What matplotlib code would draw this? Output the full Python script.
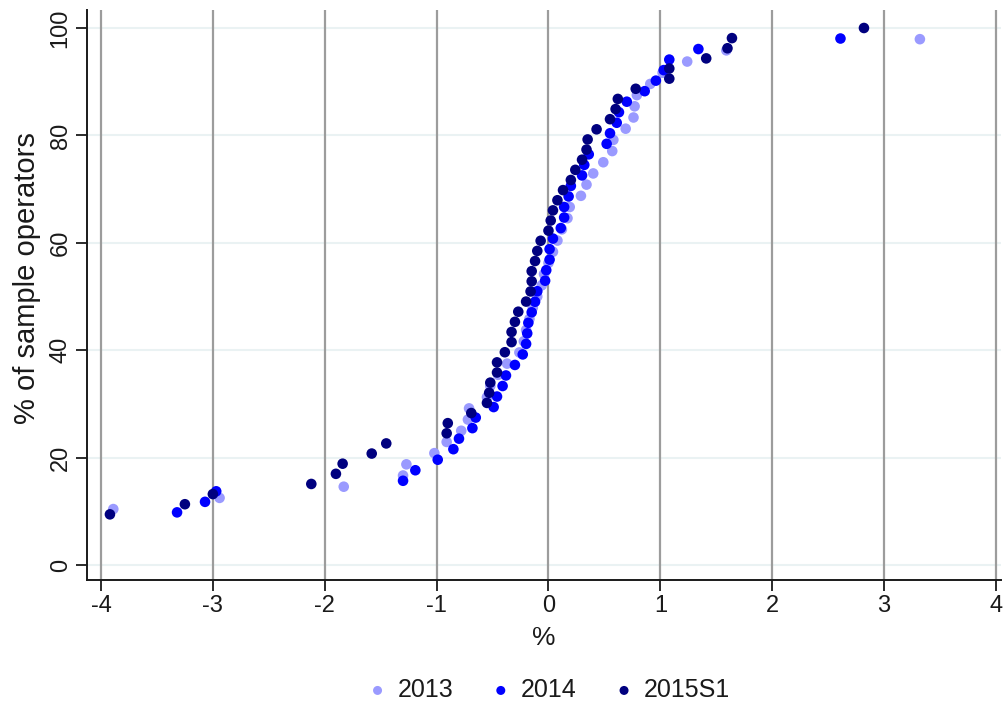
import matplotlib
matplotlib.use("Agg")
import matplotlib.pyplot as plt

# Cumulative distribution of operators' growth rates (%), by period.
# Each series: sorted x values (%), the sample size and the rank of the last point.
x_2013 = [-3.89, -2.94, -1.83, -1.30, -1.27, -1.02, -0.91, -0.78, -0.72, -0.71,
          -0.55, -0.52, -0.45, -0.37, -0.26, -0.22, -0.20, -0.17, -0.14, -0.10,
          -0.06, -0.04, 0.00, 0.04, 0.08, 0.12, 0.17, 0.19, 0.29, 0.34,
          0.40, 0.49, 0.57, 0.58, 0.69, 0.76, 0.77, 0.79, 0.91, 1.02,
          1.24, 1.59, 3.32]
n_2013, top_2013 = 48, 47

x_2014 = [-3.32, -3.07, -2.97, -1.30, -1.19, -0.99, -0.85, -0.80, -0.68, -0.65,
          -0.49, -0.46, -0.41, -0.38, -0.30, -0.23, -0.20, -0.19, -0.18, -0.15,
          -0.12, -0.10, -0.03, -0.02, 0.01, 0.01, 0.04, 0.11, 0.14, 0.14,
          0.18, 0.20, 0.30, 0.32, 0.36, 0.52, 0.55, 0.61, 0.63, 0.70,
          0.86, 0.96, 1.03, 1.08, 1.34, 2.61]
n_2014, top_2014 = 51, 50

x_2015s1 = [-3.92, -3.25, -3.00, -2.12, -1.90, -1.84, -1.58, -1.45, -0.91, -0.90,
            -0.69, -0.55, -0.53, -0.52, -0.46, -0.46, -0.39, -0.33, -0.33, -0.30,
            -0.27, -0.20, -0.16, -0.15, -0.15, -0.12, -0.10, -0.07, 0.00, 0.02,
            0.04, 0.08, 0.13, 0.20, 0.24, 0.30, 0.34, 0.35, 0.43, 0.55,
            0.60, 0.62, 0.78, 1.08, 1.08, 1.41, 1.60, 1.64, 2.82]
n_2015s1, top_2015s1 = 53, 53

series_labels = ["2013", "2014", "2015S1"]
series_colors = ["#9a9aff", "#0000ff", "#00007f"]

x_ticks = [-4, -3, -2, -1, 0, 1, 2, 3, 4]
y_ticks = [0, 20, 40, 60, 80, 100]


def cum_share(xs, n, top_rank):
    """Share of operators (%) at or below each sorted value."""
    start = top_rank - len(xs) + 1
    return [100.0 * (start + i) / n for i in range(len(xs))]


y_2013 = cum_share(x_2013, n_2013, top_2013)
y_2014 = cum_share(x_2014, n_2014, top_2014)
y_2015s1 = cum_share(x_2015s1, n_2015s1, top_2015s1)

plt.rcParams["font.family"] = ["Liberation Sans", "DejaVu Sans"]
text_color = "#1a1a1a"
fs_tick = 17
fs_xlabel = 19
fs_ylabel = 21
fs_leg = 18

fig = plt.figure(figsize=(10.04, 7.07), dpi=100)
ax = fig.add_axes([87 / 1004, (707 - 580) / 707, 914 / 1004, 570 / 707])

ax.set_xlim(-4.125, 4.045)
ax.set_ylim(-2.79, 103.35)

for xs, ys, lab, col in zip([x_2013, x_2014, x_2015s1], [y_2013, y_2014, y_2015s1],
                            series_labels, series_colors):
    ax.scatter(xs, ys, s=58, color=col, edgecolors="none", label=lab, zorder=3)

ax.set_xticks(x_ticks)
ax.set_yticks(y_ticks)
ax.set_xticklabels([str(v) for v in x_ticks])
ax.set_yticklabels([str(v) for v in y_ticks], rotation=90, va="center")

# vertical grid: grey; horizontal grid: very faint
for xv in x_ticks:
    ax.axvline(xv, color="#9c9c9c", lw=1.6, zorder=1)
for yv in y_ticks:
    ax.axhline(yv, color="#eaf2f3", lw=1.5, zorder=0.5)

for s in ["top", "right"]:
    ax.spines[s].set_visible(False)
for s in ["left", "bottom"]:
    ax.spines[s].set_color("#1a1a1a")
    ax.spines[s].set_linewidth(1.4)

ax.tick_params(axis="both", direction="out", length=8, width=1.3, color="#1a1a1a",
               labelsize=fs_tick, labelcolor=text_color, pad=3)

ax.set_xlabel("%", fontsize=fs_xlabel, color=text_color)
ax.set_ylabel("% of sample operators", fontsize=fs_ylabel, color=text_color)
ax.yaxis.set_label_coords(-0.050, 0.53)
ax.xaxis.set_label_coords(0.5, -0.08)

fig.legend(loc="center", bbox_to_anchor=(0.543, (707 - 690) / 707), ncol=3,
           frameon=False, fontsize=fs_leg, handlelength=1.4, handletextpad=0.1,
           columnspacing=1.2, markerscale=0.85, labelcolor=text_color)

fig.savefig("out.png", dpi=100)
